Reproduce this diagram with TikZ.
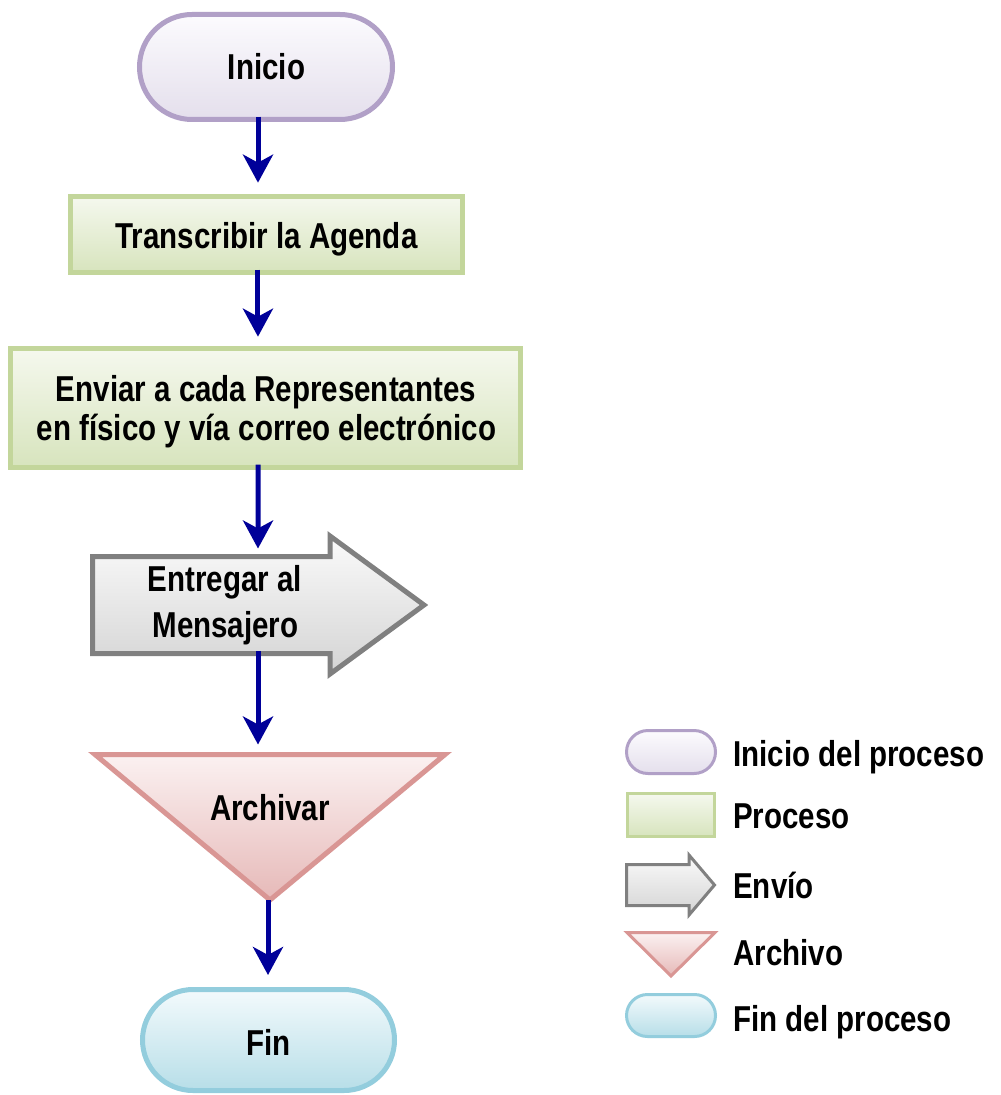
\documentclass[tikz,border=0pt]{standalone}
\usepackage{fontspec}
\newfontfamily\lblfont{Liberation Sans}[FakeStretch=0.82]
\usetikzlibrary{shapes.misc,arrows.meta}
\definecolor{purpD}{HTML}{B1A0C7}\definecolor{purpT}{HTML}{FCFBFE}\definecolor{purpB}{HTML}{E4DFEC}
\definecolor{greenD}{HTML}{C3D69B}\definecolor{greenT}{HTML}{F5F8EE}\definecolor{greenB}{HTML}{D7E4BD}
\definecolor{grayD}{HTML}{808080}\definecolor{grayT}{HTML}{FAFAFA}\definecolor{grayB}{HTML}{D4D4D4}
\definecolor{pinkD}{HTML}{D99694}\definecolor{pinkT}{HTML}{FBF1F1}\definecolor{pinkB}{HTML}{E6B9B8}
\definecolor{blueD}{HTML}{93CDDD}\definecolor{blueT}{HTML}{F3FAFC}\definecolor{blueB}{HTML}{B7DEE8}
\definecolor{lineC}{HTML}{000099}
\tikzset{
  startshape/.style={rounded rectangle, inner sep=0pt, draw=purpD, top color=purpT, bottom color=purpB},
  endshape/.style={rounded rectangle, inner sep=0pt, draw=blueD, top color=blueT, bottom color=blueB},
  procshape/.style={rectangle, inner sep=0pt, draw=greenD, top color=greenT, bottom color=greenB},
  sendshape/.style={draw=grayD, top color=grayT, bottom color=grayB, line join=miter},
  fileshape/.style={draw=pinkD, top color=pinkT, bottom color=pinkB, line join=miter},
  bigline/.style={line width=3.75pt},
  smallline/.style={line width=2.25pt},
  lbl/.style={font=\lblfont\bfseries\fontsize{27pt}{30pt}\selectfont, anchor=base, inner sep=0pt},
  lgtext/.style={lbl, anchor=base west},
  flow/.style={line width=3.75pt, draw=lineC, -{Stealth[length=21pt,width=22.5pt,inset=6pt]}}
}
\begin{document}
\begin{tikzpicture}[x=0.75pt,y=-0.75pt]
\useasboundingbox (0,0) rectangle (1000,1095);
\fill[white] (0,0) rectangle (1000,1095);

% main shapes
\node[startshape, bigline, minimum width=189.75pt, minimum height=78.75pt] (inicio) at (266,67) {};
\node[procshape, bigline, minimum width=294pt, minimum height=57pt] (trans) at (266.5,234.5) {};
\node[procshape, bigline, minimum width=382.5pt, minimum height=89.25pt] (enviar) at (265.5,408) {};
\path[sendshape, bigline] (92.5,556.5) -- (330,556.5) -- (330,536) -- (424,605) -- (330,674) -- (330,653.5) -- (92.5,653.5) -- cycle;
\path[fileshape, bigline] (95,754.5) -- (445,754.5) -- (270,900) -- cycle;
\node[endshape, bigline, minimum width=189pt, minimum height=75.75pt] (fin) at (268.5,1040) {};

\coordinate (envtop) at (258,556.5);
\coordinate (envbot) at (258,653.5);
\coordinate (archtop) at (258,754.5);
\coordinate (archbot) at (268,900);

% labels
\node[lbl] (tInicio) at (266.5,80) {Inicio};
\node[lbl] (tTrans) at (266.5,248) {Transcribir la Agenda};
\node[lbl] (tEnv1) at (266,401) {Enviar a cada Representantes};
\node[lbl] (tEnv2) at (266.5,440) {en físico y vía correo electrónico};
\node[lbl] (tEnt1) at (225,591) {Entregar al};
\node[lbl] (tEnt2) at (225.5,637) {Mensajero};
\node[lbl] (tArch) at (270,820) {Archivar};
\node[lbl] (tFin) at (268.5,1055) {Fin};

% connectors
\draw[flow, shorten <=-4pt, shorten >=8.5pt] ([xshift=-6pt]inicio.south) -- ([xshift=-6pt]inicio.south |- trans.north);
\draw[flow, shorten <=-4pt, shorten >=7pt] ([xshift=-6.4pt]trans.south) -- ([xshift=-6.4pt]trans.south |- enviar.north);
\draw[flow, shorten <=-4pt, shorten >=6pt] ([xshift=-5.6pt]enviar.south) -- (envtop);
\draw[flow, shorten <=-2pt, shorten >=7.5pt] (envbot) -- (archtop);
\draw[flow, shorten >=9pt] (archbot) -- (archbot |- fin.north);

% legend
\node[startshape, smallline, minimum width=66.75pt, minimum height=32.25pt] (lgInicio) at (671,752) {};
\node[procshape, smallline, minimum width=65.25pt, minimum height=32.25pt] (lgProc) at (671,815) {};
\path[sendshape, smallline] (626.5,864.5) -- (689,864.5) -- (689,855) -- (714.5,885) -- (689,915) -- (689,905.5) -- (626.5,905.5) -- cycle;
\path[fileshape, smallline] (627,932.5) -- (715,932.5) -- (671,976) -- cycle;
\node[endshape, smallline, minimum width=66.75pt, minimum height=31.5pt] (lgFin) at (671,1015.5) {};

\node[lgtext] (lgt1) at (733,766) {Inicio del proceso};
\node[lgtext] (lgt2) at (733,828) {Proceso};
\node[lgtext] (lgt3) at (733,898) {Envío};
\node[lgtext] (lgt4) at (733,965) {Archivo};
\node[lgtext] (lgt5) at (733,1031) {Fin del proceso};
\end{tikzpicture}
\end{document}
